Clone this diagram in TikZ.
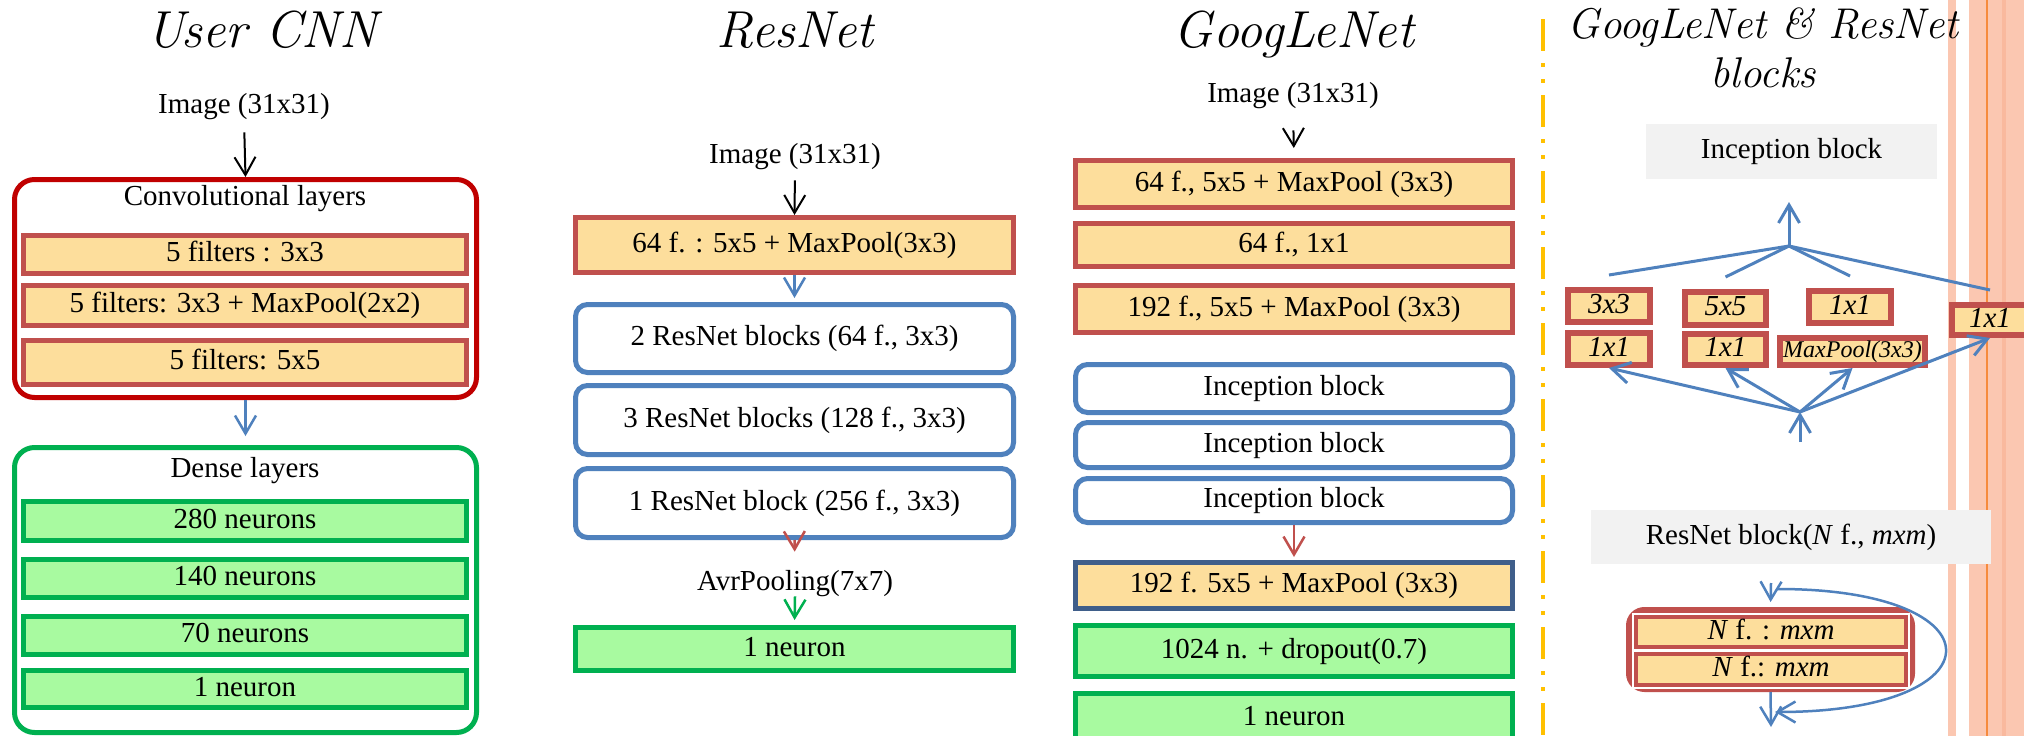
\documentclass[tikz,border=0pt]{standalone}
\usepackage{fontspec}
\newfontfamily\tnr{Liberation Serif}
\usetikzlibrary{arrows.meta}
\definecolor{boxred}{HTML}{C0504D}
\definecolor{framered}{HTML}{C00000}
\definecolor{boxgreen}{HTML}{00B050}
\definecolor{fillorange}{HTML}{FDDE9C}
\definecolor{fillgreen}{HTML}{A8FAA0}
\definecolor{boxblue}{HTML}{4F81BD}
\definecolor{navy}{HTML}{3F5E8A}
\definecolor{panelgray}{HTML}{F2F2F2}
\definecolor{divider}{HTML}{FFC000}
\definecolor{salmon}{HTML}{FBC7B1}
\definecolor{salmondark}{HTML}{F9B99E}
\definecolor{stripeline}{HTML}{F68B3D}

\begin{document}
\begin{tikzpicture}[x=1pt,y=-1pt,
  txt/.style={font=\tnr\fontsize{29}{34}\selectfont, inner sep=0pt},
  lbl/.style={txt, anchor=base},
  heading/.style={font=\fontsize{52}{62}\selectfont\itshape\addfontfeatures{FakeBold=3},
    inner sep=0pt, anchor=base},
  subheading/.style={font=\fontsize{43}{51}\selectfont\itshape\addfontfeatures{FakeBold=3},
    inner sep=0pt, anchor=base},
  layerbox/.style={txt, line width=5pt, text height=20pt, text depth=6pt},
  orangebox/.style={layerbox, draw=boxred, fill=fillorange},
  greenbox/.style={layerbox, draw=boxgreen, fill=fillgreen},
  bluebox/.style={layerbox, draw=boxblue, fill=white, rounded corners=12pt},
  frame/.style={line width=5pt, rounded corners=20pt, fill=white, inner sep=0pt},
  panel/.style={txt, fill=panelgray, text height=20pt, text depth=6pt},
  smallbox/.style={font=\tnr\itshape\fontsize{29}{34}\selectfont, inner sep=0pt,
    draw=boxred, line width=6pt, fill=fillorange, text height=20pt, text depth=6pt},
  nbox/.style={txt, draw=boxred, line width=4pt, fill=fillorange,
    text height=20pt, text depth=6pt, preaction={draw=white, line width=8pt}},
  arr/.style={-{Straight Barb[length=18pt,width=21pt]}},
  flow/.style={arr, boxblue, line width=3pt},
  fanline/.style={boxblue, line width=3pt}
]
\useasboundingbox (0,0) rectangle (2024,736);
\clip (0,0) rectangle (2024,736);
\fill[white] (0,0) rectangle (2024,736);

% ---------------- User CNN ----------------
\node[heading] (t1) at (262,47) {User CNN};
\node[lbl] (img1) at (244,113) {Image (31x31)};
\node[frame, draw=framered, minimum width=462pt, minimum height=218pt] (conv) at (245.5,288.5) {};
\node[lbl] (convlbl) at (245,205) {Convolutional layers};
\node[orangebox, minimum width=443pt, minimum height=38pt] (c1) at (245,254.5) {5 filters : 3x3};
\node[orangebox, minimum width=443pt, minimum height=40pt] (c2) at (245,305.5) {5 filters: 3x3 + MaxPool(2x2)};
\node[orangebox, minimum width=443pt, minimum height=44pt] (c3) at (245,362.5) {5 filters: 5x5};
\node[frame, draw=boxgreen, minimum width=462pt, minimum height=285pt] (dense) at (245.5,590) {};
\node[lbl] (denselbl) at (245,477) {Dense layers};
\node[greenbox, minimum width=443pt, minimum height=39pt] (d1) at (245,521) {280 neurons};
\node[greenbox, minimum width=443pt, minimum height=38pt] (d2) at (245,578.5) {140 neurons};
\node[greenbox, minimum width=443pt, minimum height=38pt] (d3) at (245,635.5) {70 neurons};
\node[greenbox, minimum width=443pt, minimum height=37pt] (d4) at (245,689) {1 neuron};
\draw[arr, line width=2pt, shorten <=13pt] (img1.south) -- (conv.north);
\draw[arr, boxblue, line width=2.5pt, shorten >=9pt] (conv.south) -- (dense.north);

% ---------------- ResNet ----------------
\node[heading] (t2) at (795,47) {ResNet};
\node[lbl] (img2) at (795,163) {Image (31x31)};
\node[orangebox, minimum width=438pt, minimum height=55pt] (r0) at (794.5,245) {64 f. : 5x5 + MaxPool(3x3)};
\node[bluebox, minimum width=438pt, minimum height=68pt] (r1) at (794.5,338.5) {2 ResNet blocks (64 f., 3x3)};
\node[bluebox, minimum width=438pt, minimum height=69pt] (r2) at (794.5,420) {3 ResNet blocks (128 f., 3x3)};
\node[bluebox, minimum width=438pt, minimum height=69pt] (r3) at (794.5,503) {1 ResNet block (256 f., 3x3)};
\node[lbl] (avr) at (795,590) {AvrPooling(7x7)};
\node[greenbox, minimum width=438pt, minimum height=43pt] (r4) at (794.5,649) {1 neuron};
\draw[arr, line width=2pt, shorten <=11pt] (img2.south) -- (r0.north);
\draw[arr, boxblue, line width=2.5pt, shorten >=4pt] (r0.south) -- (r1.north);
\draw[arr, boxred, line width=2.5pt, shorten >=18pt] (r3.south) -- (avr.north);
\draw[arr, boxgreen, line width=2.5pt, shorten >=5pt] (avr.south) -- (r4.north);

% ---------------- GoogLeNet ----------------
\node[heading] (t3) at (1294,47) {GoogLeNet};
\node[lbl] (img3) at (1293,102) {Image (31x31)};
\node[orangebox, minimum width=437pt, minimum height=47pt] (g1) at (1294,184) {64 f., 5x5 + MaxPool (3x3)};
\node[orangebox, minimum width=437pt, minimum height=43pt] (g2) at (1294,245) {64 f., 1x1};
\node[orangebox, minimum width=437pt, minimum height=47pt] (g3) at (1294,309) {192 f., 5x5 + MaxPool (3x3)};
\node[bluebox, minimum width=437pt, minimum height=48pt] (i1) at (1294,388.5) {Inception block};
\node[bluebox, minimum width=437pt, minimum height=45pt] (i2) at (1294,445) {Inception block};
\node[bluebox, minimum width=437pt, minimum height=44pt] (i3) at (1294,500.5) {Inception block};
\node[orangebox, draw=navy, minimum width=437pt, minimum height=46pt] (g4) at (1294,585.5) {192 f. 5x5 + MaxPool (3x3)};
\node[greenbox, minimum width=437pt, minimum height=51pt] (g5) at (1294,651) {1024 n. + dropout(0.7)};
\node[greenbox, minimum width=437pt, minimum height=50pt] (g6) at (1294,718) {1 neuron};
\draw[arr, line width=2pt, shorten <=22pt, shorten >=10pt] (img3.south) -- (g1.north);
\draw[arr, boxred, line width=2.5pt, shorten >=3pt] (i3.south) -- (g4.north);

% ---------------- divider and side stripes ----------------
\draw[divider, line width=4.3pt, dash pattern=on 32pt off 12pt on 4pt off 12pt on 4pt off 12pt]
  (1543,19) -- (1543,740);
\fill[salmon] (1948,0) rectangle (1956,736);
\fill[salmon] (1969,0) rectangle (2024,736);
\fill[salmondark] (2002,0) rectangle (2006,736);
\draw[stripeline, line width=2pt] (1987,0) -- (1987,736);

% ---------------- GoogLeNet & ResNet blocks ----------------
\node[subheading] (t4a) at (1763,38) {GoogLeNet \& ResNet};
\node[subheading] (t4b) at (1763,87) {blocks};

% inception block
\node[panel, minimum width=291pt, minimum height=55pt] (incp) at (1791.5,151.5) {Inception block};
\node[smallbox, minimum width=82pt, minimum height=32pt] (b33) at (1609,306) {3x3};
\node[smallbox, minimum width=82pt, minimum height=32pt] (b11a) at (1609,349) {1x1};
\node[smallbox, minimum width=81pt, minimum height=33pt] (b55) at (1725.5,308.5) {5x5};
\node[smallbox, minimum width=81pt, minimum height=31pt] (b11b) at (1725.5,349.5) {1x1};
\node[smallbox, minimum width=82pt, minimum height=32pt] (b11c) at (1850,307) {1x1};
\node[smallbox, font=\tnr\itshape\fontsize{24}{28}\selectfont, text height=17pt, text depth=5pt,
  minimum width=145pt, minimum height=27pt] (bmp) at (1852.5,351.5) {MaxPool(3x3)};
\node[smallbox, minimum width=76pt, minimum height=30pt] (b11d) at (1990,320) {1x1\hspace{22pt}};

\coordinate (f1) at (1789,246);
\coordinate (f1top) at (1789,202);
\coordinate (f2) at (1800,412);
\coordinate (f2in) at (1800,442);
\draw[flow] (f1) -- (f1top);
\draw[fanline] (f1) -- ([yshift=12pt]b33.north);
\draw[fanline] (f1) -- ([yshift=12pt]b55.north);
\draw[fanline] (f1) -- ([yshift=12pt]b11c.north);
\draw[fanline] (f1) -- ([yshift=12pt]b11d.north);
\draw[flow] (f2in) -- (f2);
\draw[flow] (f2) -- (b11a.south);
\draw[flow] (f2) -- (b11b.south);
\draw[flow] (f2) -- (bmp.south);
\draw[flow] (f2) -- (b11d.south);

% residual block
\node[panel, minimum width=400pt, minimum height=54pt] (resp) at (1791,537) {ResNet block(\textit{N} f., \textit{mxm})};
\node[draw=boxred, line width=7pt, rounded corners=15pt, fill=white, inner sep=0pt,
  minimum width=282pt, minimum height=78pt] (rb) at (1770.5,649.5) {};
\node[nbox, minimum width=270pt, minimum height=30pt] (n1) at (1771,632) {\textit{N} f. : \textit{mxm}};
\node[nbox, minimum width=270pt, minimum height=31pt] (n2) at (1771,669.5) {\textit{N} f.: \textit{mxm}};
\coordinate (rin) at (1771,583);
\coordinate (rout) at (1771,727);
\coordinate (skipa) at (1778,589);
\coordinate (skipb) at (1775,712);
\draw[flow, line width=2.5pt, shorten >=5pt] (rin) -- (rb.north);
\draw[flow, line width=2.5pt] (rb.south) -- (rout);
\draw[flow, line width=2.5pt] (skipa) .. controls (2002,589) and (2002,712) .. (skipb);
\end{tikzpicture}
\end{document}
